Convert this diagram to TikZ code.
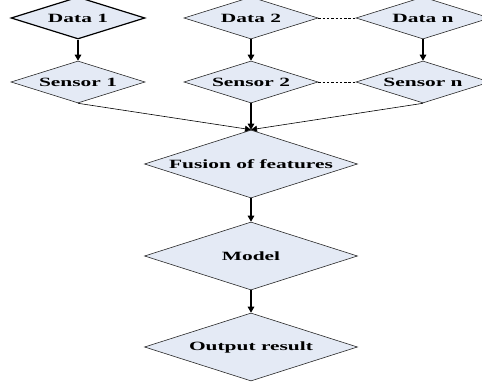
\documentclass[tikz,border=0pt]{standalone}
\usepackage{fontspec}
\usetikzlibrary{shapes.geometric,arrows.meta}
\newfontfamily\lblfont{Liberation Serif}[FakeStretch=1.7]
\definecolor{boxfill}{RGB}{228,234,245}
\definecolor{boxline}{RGB}{40,40,40}
\tikzset{
  diam/.style={shape=diamond, draw=boxline, line width=0.6pt, fill=boxfill,
    inner sep=0pt, minimum width=134pt, minimum height=42pt},
  bigdiam/.style={diam, minimum width=213pt, minimum height=68pt},
  lbl/.style={font=\lblfont\bfseries\fontsize{12.6}{14}\selectfont, inner sep=0pt},
  flow/.style={line width=1.4pt, -{Triangle[length=6pt,width=6.5pt]}},
  merge/.style={line width=0.6pt, -{Triangle[length=6pt,width=6pt]}},
  gap/.style={line width=0.7pt, dash pattern=on 2.5pt off 1.8pt}
}
\begin{document}
\begin{tikzpicture}[x=1pt, y=-1pt]
  \path[use as bounding box, clip] (0,0) rectangle (482,387);
  % input data
  \node[diam, line width=1.2pt, draw=black, label={[lbl]center:Data 1}] (d1) at (78,18) {};
  \node[diam, label={[lbl]center:Data 2}] (d2) at (251,18) {};
  \node[diam, label={[lbl]center:Data n}] (dn) at (423,18) {};
  % sensors
  \node[diam, label={[lbl]center:Sensor 1}] (s1) at (78,82) {};
  \node[diam, label={[lbl]center:Sensor 2}] (s2) at (251,82) {};
  \node[diam, label={[lbl]center:Sensor n}] (sn) at (423,82) {};
  % processing chain
  \node[bigdiam, label={[lbl]center:Fusion of features}] (fu) at (251,164) {};
  \node[bigdiam, label={[lbl]center:Model}] (mo) at (251,256) {};
  \node[bigdiam, label={[lbl]center:Output result}] (out) at (251,347) {};
  % connectors
  \draw[flow] (d1.south) -- (s1.north);
  \draw[flow] (d2.south) -- (s2.north);
  \draw[flow] (dn.south) -- (sn.north);
  \draw[gap] (d2.east) -- (dn.west);
  \draw[gap] (s2.east) -- (sn.west);
  \draw[merge] (s1.south) -- (fu.north);
  \draw[flow] (s2.south) -- (fu.north);
  \draw[merge] (sn.south) -- (fu.north);
  \draw[flow] (fu.south) -- (mo.north);
  \draw[flow] (mo.south) -- (out.north);
\end{tikzpicture}
\end{document}
